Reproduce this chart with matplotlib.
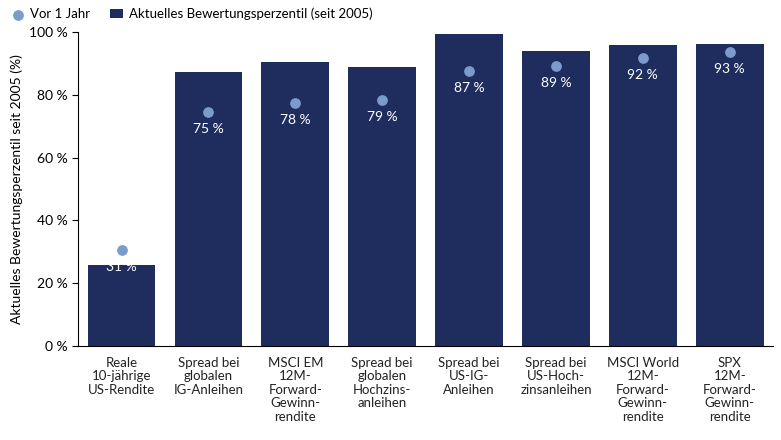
import matplotlib
matplotlib.use("Agg")
import matplotlib.pyplot as plt
from matplotlib.ticker import FuncFormatter

categories = ["Reale\n10-jährige\nUS-Rendite", "Spread bei\nglobalen\nIG-Anleihen",
              "MSCI EM\n12M-\nForward-\nGewinn-\nrendite", "Spread bei\nglobalen\nHochzins-\nanleihen",
              "Spread bei\nUS-IG-\nAnleihen", "Spread bei\nUS-Hoch-\nzinsanleihen",
              "MSCI World\n12M-\nForward-\nGewinn-\nrendite", "SPX\n12M-\nForward-\nGewinn-\nrendite"]
current = [25.8, 87.3, 90.4, 88.9, 99.4, 93.9, 95.9, 96.2]
year_ago = [30.6, 74.5, 77.4, 78.3, 87.6, 89.2, 91.7, 93.6]
labels = ["31 %", "75 %", "78 %", "79 %", "87 %", "89 %", "92 %", "93 %"]

plt.rcParams["font.family"] = "Lato"
navy = "#1f2d5e"
light = "#7b9bcc"

fig = plt.figure(figsize=(7.81, 4.40), dpi=100)
ax = fig.add_axes([0.1, 0.214, 0.89, 0.713])
x = range(len(categories))
ax.bar(x, current, width=0.78, color=navy, label="Aktuelles Bewertungsperzentil (seit 2005)")
ax.scatter(x, year_ago, s=45, color=light, zorder=3, label="Vor 1 Jahr")
for xi, y, t in zip(x, year_ago, labels):
    ax.text(xi, y - 3.5, t, ha="center", va="top", color="white", fontsize=10)

ax.set_xlim(-0.5, len(categories) - 0.5)
ax.set_ylim(0, 100)
ax.set_yticks(range(0, 101, 20))
ax.yaxis.set_major_formatter(FuncFormatter(lambda v, p: f"{int(v)} %"))
ax.set_xticks(list(x))
ax.set_xticklabels(categories, fontsize=9.5, color="#222222", linespacing=1.15)
ax.tick_params(axis="x", length=0, pad=8)
ax.tick_params(axis="y", labelsize=10, length=4)
ax.set_ylabel("Aktuelles Bewertungsperzentil seit 2005 (%)", fontsize=10)
for s in ["top", "right"]:
    ax.spines[s].set_visible(False)
fig.legend(loc="upper left", bbox_to_anchor=(0.0, 1.01), ncol=2, frameon=False,
           fontsize=9.5, handlelength=1, handletextpad=0.4, columnspacing=1.5)
fig.savefig("out.png", dpi=100)
